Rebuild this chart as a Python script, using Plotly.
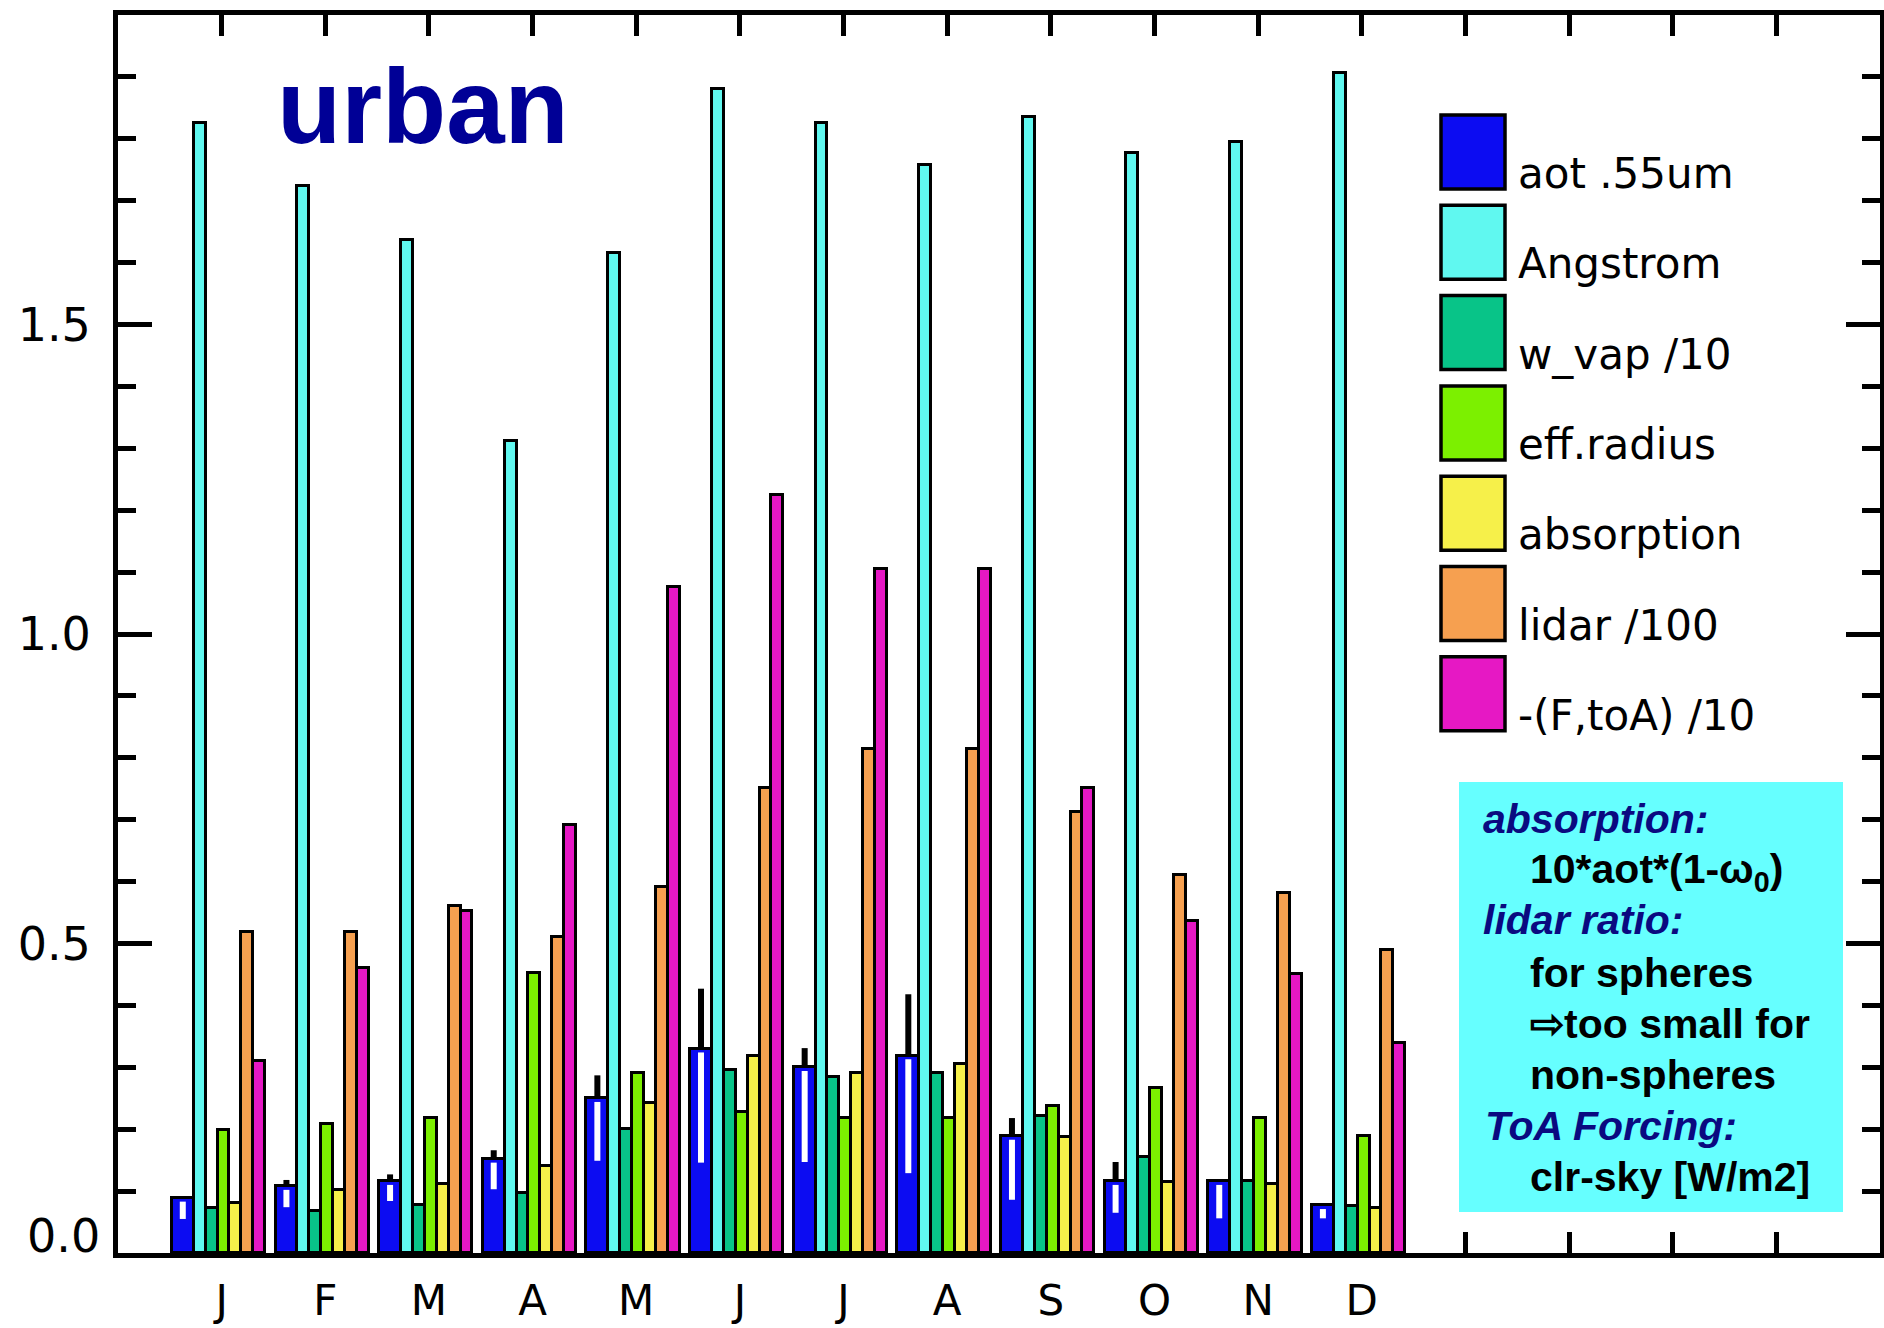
import plotly.graph_objects as go

# ---- monthly values (already scaled as labelled) ----
months = ["J", "F", "M", "A", "M", "J", "J", "A", "S", "O", "N", "D"]
month_pos = list(range(1, 13))

aot = [0.089, 0.108, 0.116, 0.152, 0.250, 0.330, 0.300, 0.319, 0.189, 0.116, 0.116, 0.077]
aot_lo = [0.055, 0.074, 0.084, 0.103, 0.149, 0.146, 0.147, 0.129, 0.086, 0.065, 0.056, 0.056]
aot_hi = [0.089, 0.118, 0.127, 0.166, 0.287, 0.427, 0.331, 0.418, 0.218, 0.147, 0.116, 0.077]
angstrom = [1.826, 1.723, 1.636, 1.312, 1.616, 1.880, 1.826, 1.758, 1.835, 1.777, 1.795, 1.907]
w_vap = [0.073, 0.068, 0.077, 0.097, 0.200, 0.295, 0.285, 0.290, 0.222, 0.155, 0.116, 0.076]
eff_radius = [0.198, 0.208, 0.218, 0.452, 0.291, 0.227, 0.218, 0.218, 0.237, 0.266, 0.218, 0.189]
absorption = [0.081, 0.102, 0.111, 0.141, 0.242, 0.319, 0.290, 0.305, 0.187, 0.115, 0.111, 0.073]
lidar = [0.518, 0.518, 0.561, 0.510, 0.591, 0.752, 0.814, 0.814, 0.713, 0.610, 0.581, 0.489]
toa_forcing = [0.310, 0.460, 0.552, 0.692, 1.076, 1.225, 1.105, 1.105, 0.752, 0.537, 0.451, 0.339]

series_labels = ["aot .55um", "Angstrom", "w_vap /10", "eff.radius",
                 "absorption", "lidar /100", "-(F,toA) /10"]
series_values = [aot, angstrom, w_vap, eff_radius, absorption, lidar, toa_forcing]
series_colors = ["#0c0cf2", "#60f8f0", "#08c488", "#7cf000",
                 "#f6f04a", "#f6a050", "#e618c4"]

y_tick_vals = [0.5, 1.0, 1.5]
y_tick_text = ["0.5", "1.0", "1.5"]
y_origin_label = "0.0"

# ---- canvas / plot-area geometry in pixels ----
W, H = 1884, 1328
L, R, T, B = 118, 1880, 15, 1253


def fx(x):
    return (x - L) / (R - L)


def fy(y):
    return (B - y) / (B - T)


# bar layout inside each month: wide aot bar, then six narrow bars
first_off, first_w, narrow_w = -0.48, 0.21, 0.115
offsets = [first_off] + [first_off + first_w + i * narrow_w for i in range(6)]
widths = [first_w] + [narrow_w] * 6

fig = go.Figure()
for lab, vals, col, off, wd in zip(series_labels, series_values, series_colors, offsets, widths):
    fig.add_trace(go.Bar(
        x=month_pos, y=vals, offset=off, width=wd, name=lab,
        marker=dict(color=col, line=dict(color="black", width=3)),
        showlegend=False,
    ))

# variability bars on the aot column: white inside the bar, black above it
xc = first_off + first_w / 2
wx, wy, kx, ky = [], [], [], []
for m, v, lo, hi in zip(month_pos, aot, aot_lo, aot_hi):
    wx += [m + xc, m + xc, None]
    wy += [lo, v - 0.006, None]
    if hi > v:
        kx += [m + xc, m + xc, None]
        ky += [v, hi, None]
fig.add_trace(go.Scatter(x=wx, y=wy, mode="lines", line=dict(color="white", width=6),
                         showlegend=False, hoverinfo="skip"))
fig.add_trace(go.Scatter(x=kx, y=ky, mode="lines", line=dict(color="black", width=6),
                         showlegend=False, hoverinfo="skip"))

shapes = []
annotations = []

# origin label sits a little above the baseline
annotations.append(dict(text=y_origin_label, xref="paper", yref="paper",
                        x=fx(L - 16), y=fy(1236), xanchor="right", yanchor="middle",
                        showarrow=False,
                        font=dict(family="DejaVu Sans", size=46, color="black")))

# legend: large swatches with labels
sw_x0, sw_x1 = 1441, 1505
sw_top0, sw_pitch, sw_h = 115, 90.3, 74
for i, (lab, col) in enumerate(zip(series_labels, series_colors)):
    top = sw_top0 + i * sw_pitch
    shapes.append(dict(type="rect", xref="paper", yref="paper",
                       x0=fx(sw_x0), x1=fx(sw_x1), y0=fy(top + sw_h), y1=fy(top),
                       fillcolor=col, line=dict(color="black", width=3.5), layer="above"))
    baseline = top + sw_h - 1
    annotations.append(dict(text=lab, xref="paper", yref="paper",
                            x=fx(1516), y=fy(baseline - 14.5), xanchor="left", yanchor="middle",
                            showarrow=False,
                            font=dict(family="DejaVu Sans", size=42, color="black")))

# title word
annotations.append(dict(text="<b>urban</b>", xref="paper", yref="paper",
                        x=fx(275), y=fy(142 - 36), xanchor="left", yanchor="middle",
                        showarrow=False,
                        font=dict(family="Liberation Sans", size=105, color="#000096")))

# explanatory note box
shapes.append(dict(type="rect", xref="paper", yref="paper",
                   x0=fx(1459), x1=fx(1843), y0=fy(1212), y1=fy(782),
                   fillcolor="#66ffff", line=dict(width=0), layer="above"))
note_lines = [
    ("<b><i>absorption:</i></b>", 1481, 833, "#0a0a80"),
    ("<b>10*aot*(1-ω<sub>0</sub>)</b>", 1528, 887, "black"),
    ("<b><i>lidar ratio:</i></b>", 1481, 935, "#0a0a80"),
    ("<b>for spheres</b>", 1528, 987, "black"),
    ("<b>⇨too small for</b>", 1528, 1038, "black"),
    ("<b>non-spheres</b>", 1528, 1089, "black"),
    ("<b><i>ToA Forcing:</i></b>", 1483, 1140, "#0a0a80"),
    ("<b>clr-sky [W/m2]</b>", 1528, 1191, "black"),
]
for txt, x0, base, col in note_lines:
    annotations.append(dict(text=txt, xref="paper", yref="paper",
                            x=fx(x0), y=fy(base - 14.5), xanchor="left", yanchor="middle",
                            showarrow=False,
                            font=dict(family="Liberation Sans", size=41, color=col)))

fig.update_layout(
    template="none",
    width=W, height=H, autosize=False,
    margin=dict(l=L, r=W - R, t=T, b=H - B, pad=0),
    paper_bgcolor="white", plot_bgcolor="white",
    barmode="overlay", bargap=0,
    shapes=shapes, annotations=annotations,
    showlegend=False,
    xaxis=dict(
        range=[0, 17], tickmode="array", tickvals=month_pos, ticktext=months,
        ticks="inside", ticklen=21, tickwidth=5, tickcolor="black",
        minor=dict(tickmode="linear", tick0=0, dtick=1, ticks="inside",
                   ticklen=21, tickwidth=5, tickcolor="black", showgrid=False),
        showline=True, linewidth=5, linecolor="black", mirror="ticks",
        showgrid=False, zeroline=False, layer="below traces", automargin=False,
        tickfont=dict(family="DejaVu Sans", size=42, color="black"),
        ticklabelstandoff=7,
    ),
    yaxis=dict(
        range=[0, 2.0], tickmode="array", tickvals=y_tick_vals, ticktext=y_tick_text,
        ticks="inside", ticklen=34, tickwidth=5, tickcolor="black",
        minor=dict(tickmode="linear", tick0=0, dtick=0.1, ticks="inside",
                   ticklen=18, tickwidth=5, tickcolor="black", showgrid=False),
        showline=True, linewidth=5, linecolor="black", mirror="ticks",
        showgrid=False, zeroline=False, layer="below traces", automargin=False,
        tickfont=dict(family="DejaVu Sans", size=46, color="black"),
        ticklabelstandoff=13,
    ),
)

fig.write_html("out.html")
